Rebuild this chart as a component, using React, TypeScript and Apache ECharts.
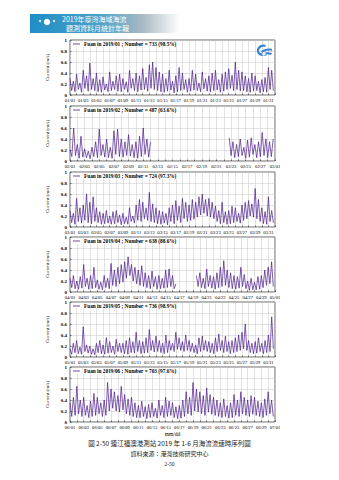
import React, { useEffect, useRef } from "react";
import * as echarts from "echarts";

const monthIdx = [0, 1, 2, 3, 4, 5];
const monthDays = [31, 28, 31, 30, 31, 30];
const legendNames = [
  "Fuan in 2019/01 ; Number = 733 (98.5%)",
  "Fuan in 2019/02 ; Number = 487 (63.6%)",
  "Fuan in 2019/03 ; Number = 724 (97.3%)",
  "Fuan in 2019/04 ; Number = 638 (88.6%)",
  "Fuan in 2019/05 ; Number = 736 (98.9%)",
  "Fuan in 2019/06 ; Number = 703 (97.6%)",
];
const yTicks = [0, 0.2, 0.4, 0.6, 0.8, 1];

// current speed (m/s), one value per 6 hours
const jan = [
  0.30,0.08,0.25,0.06, 0.38,0.10,0.22,0.05, 0.45,0.12,0.35,0.07, 0.58,0.10,0.30,0.08,
  0.40,0.06,0.28,0.05, 0.33,0.09,0.20,0.06, 0.42,0.08,0.25,0.10, 0.35,0.07,0.38,0.06,
  0.30,0.10,0.24,0.05, 0.45,0.12,0.30,0.08, 0.40,0.06,0.35,0.09, 0.48,0.10,0.32,0.07,
  0.55,0.12,0.60,0.10, 0.50,0.08,0.42,0.06, 0.38,0.05,0.30,0.07, 0.45,0.09,0.25,0.04,
  0.35,0.06,0.50,0.08, 0.40,0.10,0.28,0.05, 0.30,0.07,0.45,0.09, 0.38,0.08,0.22,0.06,
  0.42,0.11,0.30,0.07, 0.35,0.06,0.40,0.08, 0.45,0.09,0.28,0.05, 0.38,0.07,0.42,0.10,
  0.48,0.12,0.36,0.08, 0.60,0.10,0.45,0.07, 0.42,0.08,0.35,0.06, 0.30,0.05,0.40,0.07,
  0.35,0.08,0.25,0.04, 0.28,0.06,0.32,0.05, 0.50,0.10,0.45,0.08,
];
const feb = [
  0.20,0.08,0.60,0.10, 0.30,0.05,0.45,0.07, 0.22,0.06,0.18,0.04, 0.25,0.08,0.35,0.06,
  0.58,0.10,0.30,0.07, 0.40,0.06,0.25,0.05, 0.55,0.12,0.58,0.08, 0.40,0.07,0.35,0.10,
  0.48,0.09,0.30,0.06, 0.35,0.05,0.45,0.08, 0.60,0.12,0.40,0.07, 0.35,null,null,null,
  null,null,null,null, null,null,null,null, null,null,null,null, null,null,null,null,
  null,null,null,null, null,null,null,null, null,null,null,null, null,null,null,null,
  null,null,null,null, null,null,null,0.42, 0.10,0.35,0.06,0.30, 0.08,0.40,0.10,0.25,
  0.05,0.38,0.07,0.42, 0.12,0.30,0.06,0.35, 0.08,0.52,0.10,0.40, 0.06,0.35,0.08,0.40,
];
const mar = [
  0.30,0.08,0.25,0.05, 0.52,0.10,0.35,0.07, 0.40,0.12,0.60,0.08, 0.45,0.06,0.55,0.10,
  0.35,0.08,0.28,0.05, 0.25,0.06,0.30,0.07, 0.20,0.05,0.28,0.06, 0.30,0.08,0.22,0.04,
  0.25,0.06,0.18,0.05, 0.35,0.10,0.20,0.07, 0.40,0.12,0.50,0.10, 0.45,0.15,0.35,0.12,
  0.63,0.10,0.42,0.08, 0.35,0.06,0.30,0.05, 0.28,0.07,0.25,0.04, 0.35,0.10,0.40,0.06,
  0.48,0.12,0.38,0.08, 0.52,0.15,0.45,0.10, 0.40,0.12,0.50,0.14, 0.45,0.18,0.55,0.22,
  0.60,0.25,0.50,0.20, 0.52,0.18,0.45,0.15, 0.38,0.10,0.30,0.06, 0.45,0.08,0.28,0.05,
  0.30,0.06,0.38,0.08, 0.35,0.10,0.25,0.07, 0.40,0.12,0.45,0.15, 0.48,0.20,0.42,0.18,
  0.70,0.15,0.50,0.10, 0.35,0.06,0.28,0.05, 0.55,0.10,0.30,0.08,
];
const apr = [
  0.25,0.08,0.30,0.06, 0.20,0.05,0.28,0.07, 0.50,0.10,0.25,0.05, 0.30,0.06,0.45,0.08,
  0.22,0.05,0.18,0.04, 0.30,0.08,0.25,0.06, 0.52,0.12,0.40,0.10, 0.45,0.15,0.50,0.18,
  0.55,0.25,0.64,0.30, 0.50,0.20,0.45,0.15, 0.40,0.12,0.48,0.10, 0.35,0.08,0.30,0.06,
  0.38,0.10,0.28,0.05, 0.30,0.06,0.25,0.07, 0.40,0.08,0.42,0.10, 0.30,0.06,0.15,null,
  null,null,null,null, null,null,null,null, null,null,0.30,0.10, 0.35,0.08,0.25,0.06,
  0.42,0.10,0.30,0.07, 0.28,0.05,0.35,0.08, 0.45,0.10,0.57,0.12, 0.40,0.08,0.35,0.06,
  0.30,0.05,0.28,0.07, 0.45,0.10,0.32,0.06, 0.20,0.03,0.25,0.04, 0.18,0.04,0.28,0.05,
  0.30,0.08,0.40,0.12, 0.45,0.15,0.55,0.10,
];
const may = [
  0.15,0.05,0.25,0.08, 0.30,0.06,0.18,0.05, 0.55,0.10,0.22,0.07, 0.20,0.05,0.15,0.04,
  0.25,0.08,0.30,0.06, 0.22,0.05,0.35,0.07, 0.28,0.08,0.20,0.05, 0.32,0.10,0.25,0.08,
  0.25,0.06,0.30,0.05, 0.35,0.08,0.28,0.07, 0.45,0.10,0.30,0.06, 0.28,0.07,0.35,0.08,
  0.50,0.12,0.30,0.09, 0.38,0.10,0.30,0.08, 0.25,0.06,0.40,0.08, 0.30,0.12,0.25,0.10,
  0.45,0.14,0.35,0.12, 0.28,0.10,0.40,0.12, 0.30,0.10,0.25,0.08, 0.22,0.06,0.35,0.10,
  0.38,0.12,0.30,0.10, 0.28,0.08,0.25,0.06, 0.35,0.10,0.42,0.12, 0.30,0.08,0.38,0.10,
  0.28,0.06,0.30,0.08, 0.35,0.10,0.40,0.12, 0.45,0.15,0.60,0.12, 0.30,0.08,0.25,0.06,
  0.28,0.07,0.35,0.10, 0.25,0.06,0.30,0.08, 0.40,0.10,0.73,0.15,
];
const jun = [
  0.35,0.10,0.45,0.12, 0.65,0.15,0.40,0.10, 0.45,0.12,0.30,0.08, 0.38,0.10,0.52,0.12,
  0.45,0.15,0.35,0.10, 0.40,0.12,0.72,0.20, 0.60,0.25,0.55,0.20, 0.48,0.18,0.65,0.22,
  0.50,0.15,0.42,0.12, 0.45,0.10,0.35,0.08, 0.30,0.08,0.38,0.10, 0.28,0.06,0.32,0.08,
  0.35,0.10,0.25,0.07, 0.40,0.12,0.30,0.08, 0.45,0.10,0.38,0.12, 0.35,0.08,0.28,0.06,
  0.30,0.07,0.40,0.10, 0.55,0.15,0.45,0.12, 0.72,0.20,0.60,0.18, 0.55,0.15,0.48,0.12,
  0.62,0.18,0.50,0.14, 0.45,0.12,0.40,0.10, 0.35,0.08,0.42,0.10, 0.30,0.07,0.35,0.08,
  0.50,0.12,0.40,0.10, 0.55,0.15,0.45,0.12, 0.40,0.10,0.48,0.14, 0.45,0.12,0.38,0.10,
  0.35,0.08,0.42,0.12, 0.55,0.15,0.40,0.10,
];
const monthData = [jan, feb, mar, apr, may, jun];
const stepsPerDay = 4;

const SERIF = "'Liberation Serif', 'DejaVu Serif', serif";
const CJK = "'Noto Sans CJK TC', 'Noto Sans', sans-serif";
const tops = [40, 106, 172, 237, 302, 367];
const gridH = 55;
const gridLeft = 70;
const gridW = 205;
const LINE = "#4a1a8c";

function fmtDate(m: number, day: number): string {
  const d = new Date(Date.UTC(2019, m, 1 + day));
  const mm = String(d.getUTCMonth() + 1).padStart(2, "0");
  const dd = String(d.getUTCDate()).padStart(2, "0");
  return mm + "/" + dd;
}

echarts.graphic.registerShape(
  "logo",
  echarts.graphic.extendPath(
    "M10 2 C5 0 0 4 1 9 C2 13 7 14 11 12 L9 10 C6 11 3 10 3 8 C3 5 6 3 9 4 Z M5 8 C8 6 12 5 16 6 L16 8 C12 7 9 8 6 10 Z M6 11 C9 9 13 9 16 10 L15 12 C12 11 9 11 7 13 Z",
    {}
  )
);

export default function App() {
  const ref = useRef<HTMLDivElement>(null);
  useEffect(() => {
    if (!ref.current) return;
    const chart = echarts.init(ref.current, null, { renderer: "svg" });
    const grids = monthIdx.map((i) => ({
      left: gridLeft,
      top: tops[i],
      width: gridW,
      height: gridH,
      show: true,
      borderColor: "#000",
      borderWidth: 0.6,
      backgroundColor: "#fff",
    }));
    const xAxes = monthIdx.map((i) => ({
      type: "value",
      gridIndex: i,
      min: 0,
      max: monthDays[i],
      interval: 1,
      name: i === 5 ? "mm/dd" : "",
      nameLocation: "middle",
      nameGap: 9,
      nameTextStyle: { fontFamily: SERIF, fontSize: 5.5, color: "#000" },
      axisLine: { show: false },
      axisTick: { show: true, inside: true, length: 1.5, lineStyle: { color: "#000", width: 0.5 } },
      splitLine: { show: true, lineStyle: { color: "#c4c4c4", width: 0.5 } },
      axisLabel: {
        fontFamily: SERIF,
        fontSize: 4.6,
        color: "#000",
        margin: 3,
        showMinLabel: true,
        showMaxLabel: true,
        hideOverlap: false,
        formatter: (v: number) => (Math.round(v) % 2 === 0 ? fmtDate(i, Math.round(v)) : ""),
      },
    }));
    const yAxes = monthIdx.map((i) => ({
      type: "value",
      gridIndex: i,
      min: yTicks[0],
      max: yTicks[yTicks.length - 1],
      interval: 0.2,
      name: "Current (m/s)",
      nameLocation: "middle",
      nameGap: 17,
      nameTextStyle: { fontFamily: SERIF, fontSize: 5, color: "#000" },
      axisLine: { show: false },
      axisTick: { show: true, inside: true, length: 1.5, lineStyle: { color: "#000", width: 0.5 } },
      splitLine: { show: true, lineStyle: { color: "#c4c4c4", width: 0.5 } },
      axisLabel: {
        fontFamily: SERIF,
        fontSize: 5,
        fontWeight: "bold",
        color: "#000",
        margin: 3,
        formatter: (v: number) => (v === 0 ? "0" : v === 1 ? "1" : v.toFixed(1)),
      },
    }));
    const series = monthIdx.map((i) => ({
      type: "line",
      name: legendNames[i],
      xAxisIndex: i,
      yAxisIndex: i,
      showSymbol: false,
      connectNulls: false,
      lineStyle: { color: LINE, width: 0.7 },
      itemStyle: { color: LINE },
      data: monthData[i].map((v, j) => [j / stepsPerDay, v]),
      z: 3,
    }));
    const legends = monthIdx.map((i) => ({
      data: [legendNames[i]],
      left: gridLeft + 2,
      top: tops[i] + 1.5,
      padding: [0, 2, 0, 1],
      backgroundColor: "#fff",
      icon: "rect",
      itemWidth: 7,
      itemHeight: 0.8,
      itemGap: 2,
      textStyle: { fontFamily: SERIF, fontSize: 5.3, fontWeight: "bold", color: "#000", padding: [0, 0, 0, -1] },
    }));
    chart.setOption({
      animation: false,
      backgroundColor: "#fff",
      grid: grids,
      xAxis: xAxes,
      yAxis: yAxes,
      series,
      legend: legends,
      graphic: [
        {
          type: "rect",
          left: 30,
          top: 14,
          shape: { width: 150, height: 19 },
          style: {
            fill: new echarts.graphic.LinearGradient(0, 0, 1, 0, [
              { offset: 0, color: "#1f8ec6" },
              { offset: 0.45, color: "#4b9fc6" },
              { offset: 0.75, color: "#a9b9c4" },
              { offset: 1, color: "#ffffff" },
            ]),
          },
        },
        { type: "circle", shape: { cx: 40, cy: 21, r: 1 }, style: { fill: "#fff" } },
        { type: "circle", shape: { cx: 47, cy: 22, r: 3.2 }, style: { fill: "#fff" } },
        { type: "circle", shape: { cx: 54, cy: 21, r: 1 }, style: { fill: "#fff" } },
        {
          type: "text",
          left: 62,
          top: 15,
          style: { text: "2019年臺灣海域海流", fontFamily: CJK, fontSize: 7, fill: "#fff" },
        },
        {
          type: "text",
          left: 66,
          top: 24,
          style: { text: "觀測資料月統計年報", fontFamily: CJK, fontSize: 7, fill: "#fff" },
        },
        {
          type: "logo",
          x: 256,
          y: 43,
          scaleX: 1,
          scaleY: 1,
          style: { fill: "#3b82d0" },
          z: 10,
        },
        {
          type: "text",
          left: "center",
          top: 440,
          style: {
            text: "圖 2-50 連江福澳港測站 2019 年 1-6 月海流流速時序列圖",
            fontFamily: CJK,
            fontSize: 6.5,
            fill: "#222",
          },
        },
        {
          type: "text",
          left: "center",
          top: 450,
          style: { text: "資料來源：港灣技術研究中心", fontFamily: CJK, fontSize: 6, fill: "#222" },
        },
        {
          type: "text",
          left: "center",
          top: 461,
          style: { text: "2-50", fontFamily: SERIF, fontSize: 5.5, fill: "#222" },
        },
      ],
    });
    return () => chart.dispose();
  }, []);
  return (
    <div
      ref={ref}
      style={{ position: "fixed", left: 0, top: 0, width: 339, height: 480, background: "#fff" }}
    />
  );
}
